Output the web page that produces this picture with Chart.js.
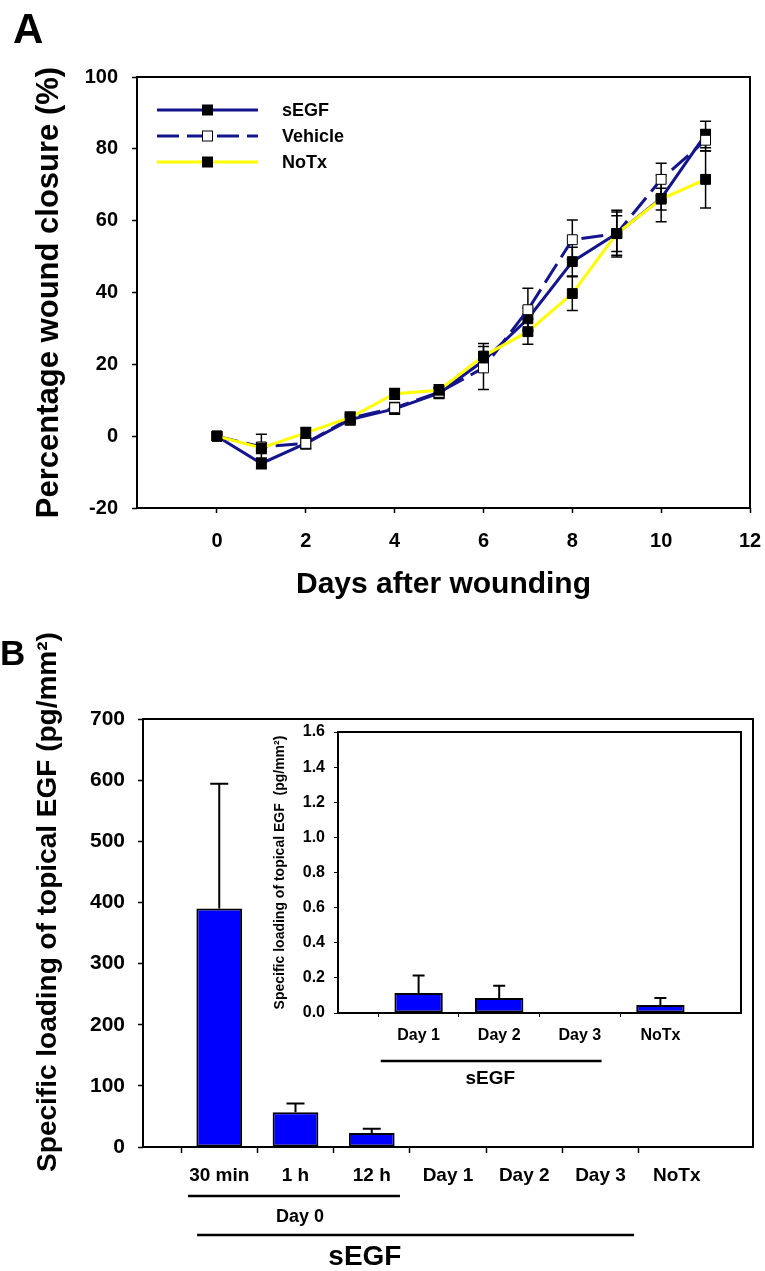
<!DOCTYPE html>
<html>
<head>
<meta charset="utf-8">
<script src="https://cdn.jsdelivr.net/npm/chart.js@4.4.1/dist/chart.umd.min.js"></script>
<style>
  body { margin: 0; background: #fff; }
  #wrap { position: relative; width: 765px; height: 1271px; overflow: hidden; }
  canvas { position: absolute; }
</style>
</head>
<body>
<div id="wrap">
  <canvas id="woundChart" width="765" height="610" style="left:0;top:0"></canvas>
  <canvas id="loadChart" width="765" height="661" style="left:0;top:610px"></canvas>
  <canvas id="insetChart" width="535" height="420" style="left:230px;top:700px"></canvas>
</div>
<script>
// Panel A - wound closure over time
const days = [0, 1, 2, 3, 4, 5, 6, 7, 8, 9, 10, 11];
const dayTicks = [0, 2, 4, 6, 8, 10, 12];
const segfClosure = [0, -7.6, -2, 4.6, 7.6, 12, 21, 32.7, 48.6, 56.4, 66.2, 84];
const segfSem = [0, 1.5, 1.5, 1.5, 1.5, 1.5, 2, 3, 4, 6, 6.5, 3.7];
const vehicleClosure = [0, -3, -2, 5, 7.9, 12.2, 19, 35.2, 54.7, 56.4, 71.5, 82.4];
const vehicleSem = [0, 3.5, 1.5, 1.5, 1.5, 1.5, 6, 6, 5.5, 6.5, 4.5, 3];
const notxClosure = [0, -3.3, 0.9, 5.2, 11.8, 12.8, 22.3, 29.1, 39.7, 56.4, 66, 71.5];
const notxSem = [0, 1.5, 1.5, 1.5, 1.5, 1.5, 3.5, 3.5, 4.7, 5, 3, 8];

// Panel B - EGF loading
const loadLabels = ['30 min', '1 h', '12 h', 'Day 1', 'Day 2', 'Day 3', 'NoTx'];
const loadVals = [390, 57, 23, null, null, null, null];
const loadSem = [204, 14, 7, null, null, null, null];
const insetLabels = ['Day 1', 'Day 2', 'Day 3', 'NoTx'];
const insetVals = [0.114, 0.085, 0, 0.045];
const insetSem = [0.10, 0.07, 0, 0.04];

Chart.defaults.font.family = '"Liberation Sans", Arial, sans-serif';
Chart.defaults.font.weight = 'bold';
Chart.defaults.color = '#000';

const NAVY = '#14148c';

// box round the plot area
const framePlugin = {
  id: 'frame',
  afterDatasetsDraw(chart) {
    const { ctx, chartArea: a } = chart;
    ctx.save();
    ctx.strokeStyle = '#000';
    ctx.lineWidth = 2;
    ctx.strokeRect(a.left, a.top, a.right - a.left, a.bottom - a.top);
    ctx.restore();
  }
};

function drawErrorBars(chart, opts) {
  const ctx = chart.ctx;
  const yScale = chart.scales.y;
  chart.data.datasets.forEach((ds, di) => {
    if (!ds.errorBars) return;
    const meta = chart.getDatasetMeta(di);
    meta.data.forEach((el, i) => {
      const err = ds.errorBars[i];
      const val = meta.controller.getParsed(i).y;
      if (!err || val == null || isNaN(val)) return;
      const x = el.x;
      const yTop = yScale.getPixelForValue(val + err);
      const yBot = opts.both ? yScale.getPixelForValue(val - err) : el.y;
      const hw = opts.cap / 2;
      ctx.save();
      ctx.strokeStyle = '#000';
      ctx.lineWidth = opts.width;
      ctx.beginPath();
      ctx.moveTo(x, yBot); ctx.lineTo(x, yTop);
      ctx.moveTo(x - hw, yTop); ctx.lineTo(x + hw, yTop);
      if (opts.both) { ctx.moveTo(x - hw, yBot); ctx.lineTo(x + hw, yBot); }
      ctx.stroke();
      ctx.restore();
    });
  });
}

const errorBarPlugin = {
  id: 'errorBars',
  beforeDatasetsDraw(chart, args, opts) { if (opts.under) drawErrorBars(chart, opts); },
  afterDatasetsDraw(chart, args, opts) { if (!opts.under) drawErrorBars(chart, opts); }
};

// legend rows: line with the marker in the middle
const lineLegendPlugin = {
  id: 'lineLegend',
  afterDraw(chart, args, opts) {
    const { ctx, chartArea: a } = chart;
    chart.data.datasets.forEach((ds, i) => {
      const y = a.top + opts.top + i * opts.rowGap;
      const x0 = a.left + opts.left;
      const mx = x0 + opts.lineLen / 2;
      ctx.save();
      ctx.strokeStyle = ds.borderColor;
      ctx.lineWidth = ds.borderWidth;
      ctx.setLineDash(ds.borderDash || []);
      ctx.beginPath(); ctx.moveTo(x0, y); ctx.lineTo(x0 + opts.lineLen, y); ctx.stroke();
      ctx.setLineDash([]);
      ctx.fillStyle = ds.pointBackgroundColor;
      ctx.strokeStyle = '#000';
      ctx.lineWidth = 1;
      ctx.fillRect(mx - 5, y - 5, 10, 10);
      ctx.strokeRect(mx - 5, y - 5, 10, 10);
      ctx.fillStyle = '#000';
      ctx.font = 'bold ' + opts.fontSize + 'px "Liberation Sans", Arial, sans-serif';
      ctx.textBaseline = 'middle';
      ctx.fillText(ds.label, x0 + opts.lineLen + opts.gap, y + 1);
      ctx.restore();
    });
  }
};

// free text: panel letters and the off-centre axis title of B
const textPlugin = {
  id: 'freeText',
  afterDraw(chart, args, opts) {
    const ctx = chart.ctx;
    (opts.items || []).forEach(t => {
      ctx.save();
      ctx.fillStyle = '#000';
      ctx.font = 'bold ' + t.size + 'px "Liberation Sans", Arial, sans-serif';
      ctx.translate(t.x, t.y);
      if (t.rotate) ctx.rotate(t.rotate);
      ctx.textAlign = t.align || 'left';
      ctx.textBaseline = t.baseline || 'alphabetic';
      ctx.fillText(t.text, 0, 0);
      ctx.restore();
    });
  }
};

// group lines under the category axis
const groupPlugin = {
  id: 'groups',
  afterDraw(chart, args, opts) {
    const { ctx, chartArea: a } = chart;
    const xs = chart.scales.x;
    const p0 = xs.getPixelForValue(0);
    const step = xs.getPixelForValue(1) - p0;
    (opts.items || []).forEach(g => {
      ctx.save();
      ctx.strokeStyle = '#000';
      ctx.lineWidth = 2.5;
      ctx.beginPath();
      ctx.moveTo(p0 + g.from * step, a.bottom + g.lineY);
      ctx.lineTo(p0 + g.to * step, a.bottom + g.lineY);
      ctx.stroke();
      ctx.fillStyle = '#000';
      ctx.font = 'bold ' + g.size + 'px "Liberation Sans", Arial, sans-serif';
      ctx.textAlign = 'center';
      ctx.textBaseline = 'middle';
      ctx.fillText(g.text, p0 + g.at * step, a.bottom + g.textY);
      ctx.restore();
    });
  }
};

function lineSet(label, vals, sem, color, dash, fill, order) {
  return {
    label: label,
    data: days.map((d, i) => ({ x: d, y: vals[i] })),
    errorBars: sem,
    borderColor: color,
    borderWidth: 3,
    borderDash: dash,
    pointStyle: 'rect',
    pointRadius: 7,
    pointBackgroundColor: fill,
    pointBorderColor: '#000',
    pointBorderWidth: 1,
    tension: 0,
    order: order
  };
}

new Chart(document.getElementById('woundChart'), {
  type: 'line',
  data: {
    datasets: [
      lineSet('sEGF', segfClosure, segfSem, NAVY, [], '#000', 2),
      lineSet('Vehicle', vehicleClosure, vehicleSem, NAVY, [22, 8], '#fff', 1),
      lineSet('NoTx', notxClosure, notxSem, '#ffff00', [], '#000', 0)
    ]
  },
  plugins: [errorBarPlugin, framePlugin, lineLegendPlugin, textPlugin],
  options: {
    responsive: false,
    animation: false,
    layout: { padding: { top: 77, right: 15, bottom: 0, left: 0 } },
    scales: {
      x: {
        type: 'linear', min: -1.8, max: 12,
        afterBuildTicks: s => { s.ticks = dayTicks.map(v => ({ value: v })); },
        afterFit: s => { s.height = 102; s.paddingRight = 0; s.paddingLeft = 0; },
        border: { display: false },
        grid: { drawOnChartArea: false, tickLength: 5, tickColor: '#000', tickWidth: 1.5 },
        ticks: { font: { size: 20 }, padding: 16, maxRotation: 0 },
        title: { display: true, text: 'Days after wounding', font: { size: 30, lineHeight: 1.2 }, padding: { top: 0, bottom: 7 } }
      },
      y: {
        min: -20, max: 100,
        afterFit: s => { s.width = 137; },
        border: { display: false },
        grid: { drawOnChartArea: false, tickLength: 5, tickColor: '#000', tickWidth: 1.5 },
        ticks: { stepSize: 20, font: { size: 20 }, padding: 14 },
        title: { display: true, text: 'Percentage wound closure (%)', font: { size: 31, lineHeight: 1.2 }, padding: { top: 31, bottom: 0 } }
      }
    },
    plugins: {
      legend: { display: false },
      tooltip: { enabled: false },
      errorBars: { under: true, both: true, cap: 11, width: 1.5 },
      lineLegend: { left: 20, top: 33, rowGap: 26, lineLen: 101, gap: 24, fontSize: 18 },
      freeText: { items: [{ text: 'A', x: 13, y: 43, size: 42 }] }
    }
  }
});

const edgeTick = ctx => (ctx.tick && ctx.tick.label === '') ? 'rgba(0,0,0,0)' : '#000';

new Chart(document.getElementById('loadChart'), {
  type: 'bar',
  data: {
    labels: [''].concat(loadLabels, ['']),
    datasets: [{
      data: [null].concat(loadVals, [null]),
      errorBars: [null].concat(loadSem, [null]),
      backgroundColor: '#0000ff',
      borderColor: '#000',
      borderWidth: 2,
      borderSkipped: false,
      categoryPercentage: 1,
      barPercentage: 0.6
    }]
  },
  plugins: [framePlugin, errorBarPlugin, groupPlugin, textPlugin],
  options: {
    responsive: false,
    animation: false,
    layout: { padding: { top: 109, right: 12, bottom: 0, left: 0 } },
    scales: {
      x: {
        offset: false,
        afterFit: s => { s.height = 124; },
        border: { display: false },
        grid: { drawOnChartArea: false, tickLength: 6, tickColor: edgeTick, tickWidth: 1.5 },
        ticks: { font: { size: 19 }, padding: 11, autoSkip: false, maxRotation: 0 }
      },
      y: {
        min: 0, max: 700,
        afterFit: s => { s.width = 143; },
        border: { display: false },
        grid: { drawOnChartArea: false, tickLength: 5, tickColor: '#000', tickWidth: 1.5 },
        ticks: { stepSize: 100, font: { size: 21 }, padding: 13 }
      }
    },
    plugins: {
      legend: { display: false },
      tooltip: { enabled: false },
      errorBars: { under: false, both: false, cap: 18, width: 2 },
      groups: {
        items: [
          { text: 'Day 0', from: 0.59, to: 3.37, at: 2.06, lineY: 49, textY: 70, size: 18 },
          { text: 'sEGF', from: 0.71, to: 6.44, at: 2.91, lineY: 88, textY: 110, size: 28 }
        ]
      },
      freeText: {
        items: [
          { text: 'B', x: 0, y: 55, size: 35 },
          { text: 'Specific loading of topical EGF (pg/mm²)', x: 48, y: 292, size: 28,
            rotate: -Math.PI / 2, align: 'center', baseline: 'middle' }
        ]
      }
    }
  }
});

new Chart(document.getElementById('insetChart'), {
  type: 'bar',
  data: {
    labels: [''].concat(insetLabels, ['']),
    datasets: [{
      data: [null].concat(insetVals, [null]),
      errorBars: [null].concat(insetSem, [null]),
      backgroundColor: '#0000ff',
      borderColor: '#000',
      borderWidth: 2,
      borderSkipped: false,
      categoryPercentage: 1,
      barPercentage: 0.6
    }]
  },
  plugins: [framePlugin, errorBarPlugin, groupPlugin],
  options: {
    responsive: false,
    animation: false,
    layout: { padding: { top: 32, right: 24, bottom: 0, left: 0 } },
    scales: {
      x: {
        offset: false,
        afterFit: s => { s.height = 107; },
        border: { display: false },
        grid: { drawOnChartArea: false, tickLength: 4, tickColor: edgeTick, tickWidth: 1 },
        ticks: { font: { size: 16 }, padding: 9, autoSkip: false, maxRotation: 0 }
      },
      y: {
        min: 0, max: 1.6,
        afterFit: s => { s.width = 108; },
        border: { display: false },
        grid: { drawOnChartArea: false, tickLength: 4, tickColor: '#000', tickWidth: 1 },
        ticks: { stepSize: 0.2, font: { size: 16 }, padding: 9, callback: v => Number(v).toFixed(1) },
        title: { display: true, text: 'Specific loading of topical EGF  (pg/mm²)', font: { size: 14, lineHeight: 1.2 }, padding: { top: 42, bottom: 0 } }
      }
    },
    plugins: {
      legend: { display: false },
      tooltip: { enabled: false },
      errorBars: { under: false, both: false, cap: 12, width: 2 },
      groups: {
        items: [
          { text: 'sEGF', from: 0.53, to: 3.27, at: 1.89, lineY: 48, textY: 66, size: 19 }
        ]
      }
    }
  }
});
</script>
</body>
</html>
